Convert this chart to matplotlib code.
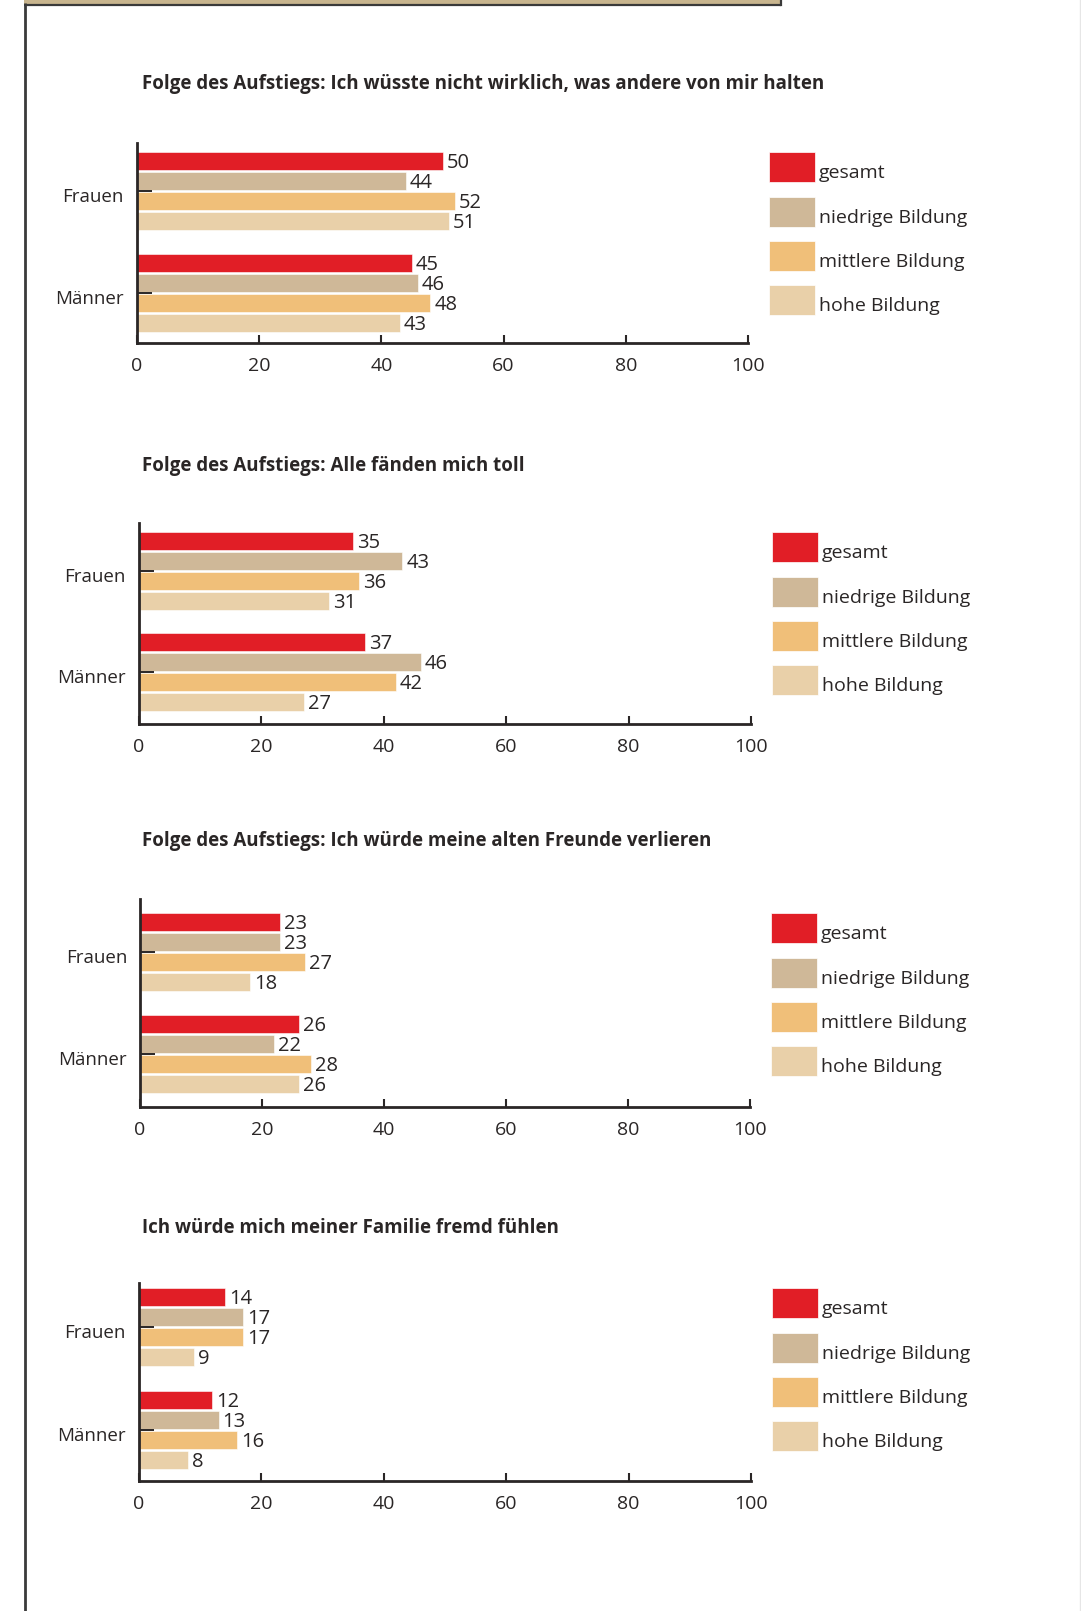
import matplotlib
matplotlib.use("Agg")
import matplotlib.pyplot as plt
from matplotlib.patches import Rectangle

W, H = 1081, 1611

# --- data -------------------------------------------------------------
titles = [
    "Folge des Aufstiegs: Ich wüsste nicht wirklich, was andere von mir halten",
    "Folge des Aufstiegs: Alle fänden mich toll",
    "Folge des Aufstiegs: Ich würde meine alten Freunde verlieren",
    "Ich würde mich meiner Familie fremd fühlen",
]
groups = ["Frauen", "Männer"]
series = ["gesamt", "niedrige Bildung", "mittlere Bildung", "hohe Bildung"]
x_ticks = [0, 20, 40, 60, 80, 100]

frauen_values = [
    [50, 44, 52, 51],
    [35, 43, 36, 31],
    [23, 23, 27, 18],
    [14, 17, 17, 9],
]
maenner_values = [
    [45, 46, 48, 43],
    [37, 46, 42, 27],
    [26, 22, 28, 26],
    [12, 13, 16, 8],
]

# --- styling ----------------------------------------------------------
colors = ["#e11e26", "#cfb898", "#f0bf79", "#e9d0a9"]
ink = "#2a2626"
body_font = ["Open Sans", "DejaVu Sans"]
plt.rcParams["font.family"] = body_font

# panel layout in pixels: x of 0, x of 100, axis top, axis bottom,
# top of first bar of each group, title centre y
layout = [
    dict(x0=137, x1=748, top=143, bottom=343, g=(152, 254), ty=84),
    dict(x0=139, x1=751, top=523, bottom=724, g=(532, 633), ty=466),
    dict(x0=140, x1=750, top=899, bottom=1107, g=(913, 1015), ty=841),
    dict(x0=139, x1=751, top=1283, bottom=1481, g=(1288, 1391), ty=1228),
]
pitch, bar_h = 20, 18

fig = plt.figure(figsize=(W / 100, H / 100), dpi=100)
fig.patch.set_facecolor("white")

# full-page overlay for frame, titles and legends (pixel coordinates)
ov = fig.add_axes([0, 0, 1, 1], zorder=0)
ov.set_xlim(0, W)
ov.set_ylim(H, 0)
ov.axis("off")

# page frame
ov.add_patch(Rectangle((24, 0), 757, 4, facecolor="#c8b58e", edgecolor="none"))
ov.plot([24, 781], [4.5, 4.5], color="#3a3a3a", lw=1.6, solid_capstyle="butt")
ov.plot([781, 781], [0, 4.5], color="#3a3a3a", lw=1.6)
ov.plot([24.5, 24.5], [3, H], color="#3a3a3a", lw=2.0, solid_capstyle="butt")
ov.plot([1080, 1080], [0, H], color="#e6e6e6", lw=1.0)

for p, cfg in enumerate(layout):
    top, bottom = cfg["top"], cfg["bottom"]
    ax = fig.add_axes([cfg["x0"] / W, 1 - bottom / H,
                       (cfg["x1"] - cfg["x0"]) / W, (bottom - top) / H], zorder=2)
    ax.patch.set_alpha(0)
    ax.set_xlim(0, 100)
    ax.set_ylim(bottom - top, 0)

    group_centers = []
    for gi, vals in enumerate([frauen_values[p], maenner_values[p]]):
        start = cfg["g"][gi] - top + bar_h / 2
        ys = [start + pitch * i for i in range(len(series))]
        ax.barh(ys, vals, height=bar_h, color=colors, edgecolor="white",
                linewidth=0.4, left=0)
        for y, v in zip(ys, vals):
            ax.annotate(str(v), xy=(v, y), xytext=(4, -2), textcoords="offset pixels",
                        ha="left", va="center", fontsize=14.5, color=ink)
        group_centers.append(sum(ys) / len(ys))

    ax.set_yticks(group_centers)
    ax.set_yticklabels([])
    for yc, name in zip(group_centers, groups):
        ax.annotate(name, xy=(0, yc), xycoords=("axes fraction", "data"),
                    xytext=(-13, -6), textcoords="offset pixels",
                    ha="right", va="center", fontsize=13.5, color=ink)

    ax.set_xticks(x_ticks)
    ax.set_xticklabels([str(t) for t in x_ticks], fontsize=14, color=ink)
    ax.tick_params(axis="x", direction="in", length=5.5, width=1.5, color=ink, pad=10)
    ax.tick_params(axis="y", direction="in", length=11, width=1.4, color=ink)
    for s in ["top", "right"]:
        ax.spines[s].set_visible(False)
    for s in ["left", "bottom"]:
        ax.spines[s].set_color(ink)
        ax.spines[s].set_linewidth(2.0)

    # title
    ov.text(142, cfg["ty"], titles[p], fontsize=13.5, fontweight="bold",
            color=ink, ha="left", va="center")

    # legend
    lx = cfg["x1"] + 21
    ly0 = cfg["g"][0]
    offs = [0, 45, 89, 133]
    for k, name in enumerate(series):
        ov.add_patch(Rectangle((lx, ly0 + offs[k]), 46, 30,
                               facecolor=colors[k], edgecolor="white", lw=0.5))
        ov.text(lx + 50, ly0 + offs[k] + 21, name, fontsize=14, color=ink,
                ha="left", va="center")

fig.savefig("out.png", dpi=100, facecolor="white")
